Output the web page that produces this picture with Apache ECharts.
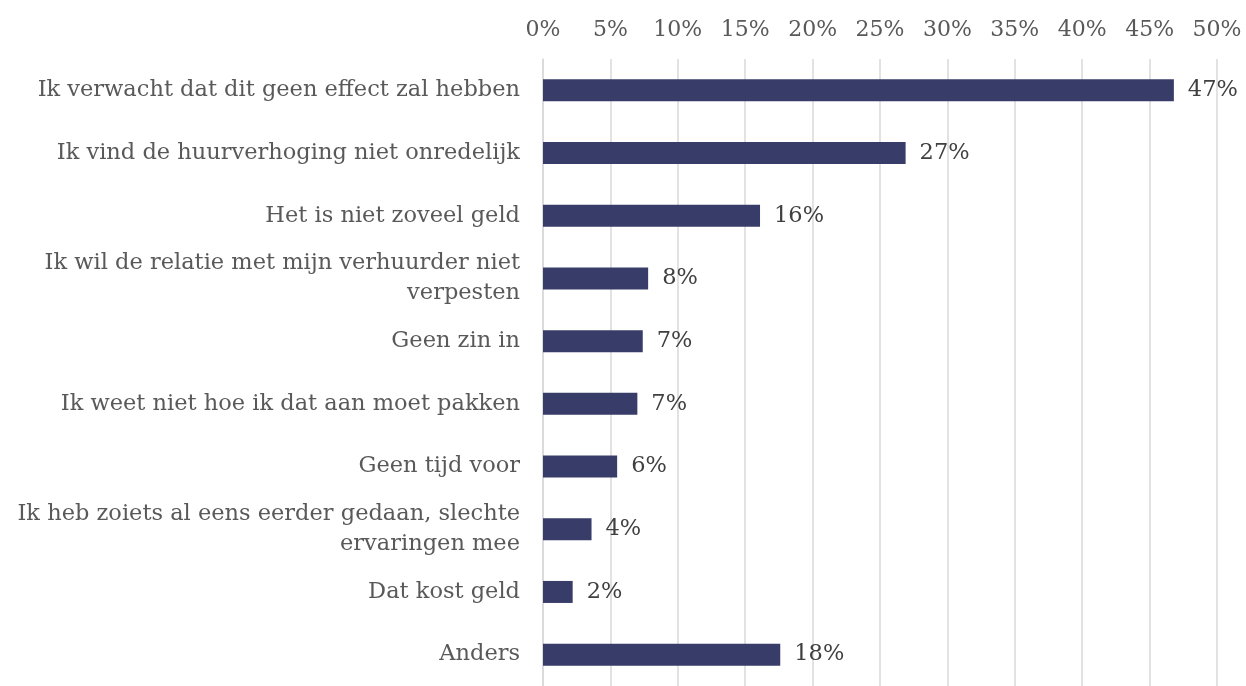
<!DOCTYPE html>
<html>
<head>
<meta charset="utf-8">
<script src="https://cdn.jsdelivr.net/npm/echarts@6/dist/echarts.min.js"></script>
<style>html,body{margin:0;padding:0;background:#fff;}#c{width:1246px;height:686px;}</style>
</head>
<body>
<div id="c"></div>
<script>
var categories = [
  "Ik verwacht dat dit geen effect zal hebben",
  "Ik vind de huurverhoging niet onredelijk",
  "Het is niet zoveel geld",
  "Ik wil de relatie met mijn verhuurder niet\nverpesten",
  "Geen zin in",
  "Ik weet niet hoe ik dat aan moet pakken",
  "Geen tijd voor",
  "Ik heb zoiets al eens eerder gedaan, slechte\nervaringen mee",
  "Dat kost geld",
  "Anders"
];
var values = [46.8, 26.9, 16.1, 7.8, 7.4, 7.0, 5.5, 3.6, 2.2, 17.6];
var tickMin = 0, tickMax = 50, tickStep = 5;

var chart = echarts.init(document.getElementById('c'));
var font = "'DejaVu Serif', 'Liberation Serif', serif";
chart.setOption({
  animation: false,
  grid: { left: 543, right: 29, top: 59, height: 631, containLabel: false },
  xAxis: {
    type: 'value', position: 'top', min: tickMin, max: tickMax, interval: tickStep,
    axisLine: { show: false }, axisTick: { show: false },
    splitLine: { show: true, lineStyle: { color: '#d9d9d9', width: 1.5 } },
    axisLabel: { formatter: '{value}%', color: '#595959', fontFamily: font, fontSize: 22, margin: 18 }
  },
  yAxis: {
    type: 'category', inverse: true, data: categories,
    axisLine: { show: true, lineStyle: { color: '#d9d9d9', width: 1.5 } },
    axisTick: { show: false },
    axisLabel: { color: '#595959', fontFamily: font, fontSize: 22.5, margin: 23, lineHeight: 30, align: 'right' }
  },
  series: [{
    type: 'bar', data: values, barWidth: 22,
    itemStyle: { color: '#383c68' },
    label: {
      show: true, position: 'right', distance: 14,
      formatter: function (p) { return Math.round(p.value) + '%'; },
      color: '#404040', fontFamily: font, fontSize: 22.5
    }
  }]
});
</script>
</body>
</html>
